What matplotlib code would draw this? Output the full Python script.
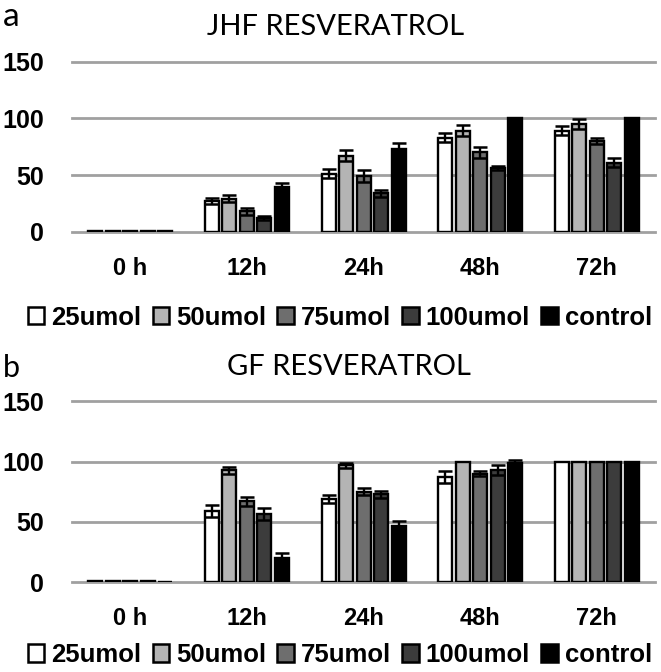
# graphique resveratrol JHF / GF, barres groupees avec erreurs

import numpy as np
import matplotlib
matplotlib.use('Agg')
import matplotlib.pyplot as plt
from matplotlib.patches import Rectangle

temps = ['0 h', '12h', '24h', '48h', '72h']
doses = ['25umol', '50umol', '75umol', '100umol', 'control']
couleurs = ['#ffffff', '#b4b4b4', '#6e6e6e', '#3c3c3c', '#000000']

# panneau a : JHF
jhf_25 = [1, 27, 51, 83, 89]
jhf_50 = [1, 29, 67, 89, 95]
jhf_75 = [1, 18, 49, 70, 80]
jhf_100 = [1, 12, 34, 56, 61]
jhf_ctrl = [1, 39, 73, 100, 100]
jhf_err_25 = [0, 3, 4, 4, 4]
jhf_err_50 = [0, 3, 5, 5, 4]
jhf_err_75 = [0, 3, 5, 5, 3]
jhf_err_100 = [0, 2, 3, 2, 4]
jhf_err_ctrl = [0, 4, 5, 0, 0]

# panneau b : GF
gf_25 = [1, 59, 69, 87, 100]
gf_50 = [1, 93, 97, 100, 100]
gf_75 = [1, 67, 75, 90, 100]
gf_100 = [1, 57, 73, 93, 100]
gf_ctrl = [0, 20, 47, 99, 100]
gf_err_25 = [0, 5, 3, 5, 0]
gf_err_50 = [0, 3, 2, 0, 0]
gf_err_75 = [0, 4, 3, 2, 0]
gf_err_100 = [0, 5, 3, 4, 0]
gf_err_ctrl = [0, 4, 4, 2, 0]

police_titre = ['Lato', 'DejaVu Sans']
police_gras = ['Liberation Sans', 'DejaVu Sans']

fig = plt.figure(figsize=(6.61, 6.72), dpi=100)


def panneau(ax, valeurs, erreurs):
    x = np.arange(len(temps))
    pas = 0.15
    for i, (v, e) in enumerate(zip(valeurs, erreurs)):
        pos = x + (i - 2) * pas
        ax.bar(pos, v, width=0.12, color=couleurs[i], edgecolor='black',
               linewidth=1.7, zorder=3)
        e = np.array(e)
        m = e > 0
        ax.errorbar(pos[m], np.array(v)[m], yerr=e[m], fmt='none', ecolor='black',
                    elinewidth=1.7, capsize=5, capthick=1.8, zorder=4)
    ax.set_xlim(-0.5, 4.5)
    ax.set_ylim(0, 150)
    ax.set_yticks([0, 50, 100, 150])
    ax.set_xticks(x)
    ax.set_xticklabels(temps, fontsize=17, fontweight='bold', family=police_gras)
    for lab in ax.get_yticklabels():
        lab.set_fontsize(18)
        lab.set_fontweight('bold')
        lab.set_family(police_gras)
    ax.tick_params(axis='x', length=0, pad=18)
    ax.tick_params(axis='y', length=0, pad=20)
    ax.grid(axis='y', color='#a0a0a0', lw=2, zorder=0)
    for l in ax.get_ygridlines():
        l.set_clip_on(False)
    for s in ax.spines.values():
        s.set_visible(False)
    ax.set_axisbelow(True)


def legende(y):
    poignees = [Rectangle((0, 0), 1, 1, facecolor=c, edgecolor='black', lw=1.8)
                for c in couleurs]
    fig.legend(poignees, doses, loc='center', bbox_to_anchor=(0.514, y), ncol=5,
               frameon=False, handlelength=0.65, handleheight=0.65,
               handletextpad=0.25, columnspacing=0.45, borderpad=0, borderaxespad=0,
               prop={'family': police_gras, 'weight': 'bold', 'size': 18.5})


ax_a = fig.add_axes([0.109, 0.6552, 0.882, 0.2531])
panneau(ax_a, [jhf_25, jhf_50, jhf_75, jhf_100, jhf_ctrl],
        [jhf_err_25, jhf_err_50, jhf_err_75, jhf_err_100, jhf_err_ctrl])
legende(0.527)

ax_b = fig.add_axes([0.109, 0.1335, 0.882, 0.2692])
panneau(ax_b, [gf_25, gf_50, gf_75, gf_100, gf_ctrl],
        [gf_err_25, gf_err_50, gf_err_75, gf_err_100, gf_err_ctrl])
legende(0.0253)

# titres et lettres
fig.text(0.508, 0.96, 'JHF RESVERATROL', ha='center', va='center',
         fontsize=21, family=police_titre)
fig.text(0.528, 0.454, 'GF RESVERATROL', ha='center', va='center',
         fontsize=21, family=police_titre)
fig.text(0.004, 1 - 26 / 672, 'a', ha='left', va='baseline', fontsize=24,
         family=police_titre)
fig.text(0.005, 1 - 377 / 672, 'b', ha='left', va='baseline', fontsize=22,
         family=police_titre)

plt.savefig('out.png', dpi=100)
plt.close()
